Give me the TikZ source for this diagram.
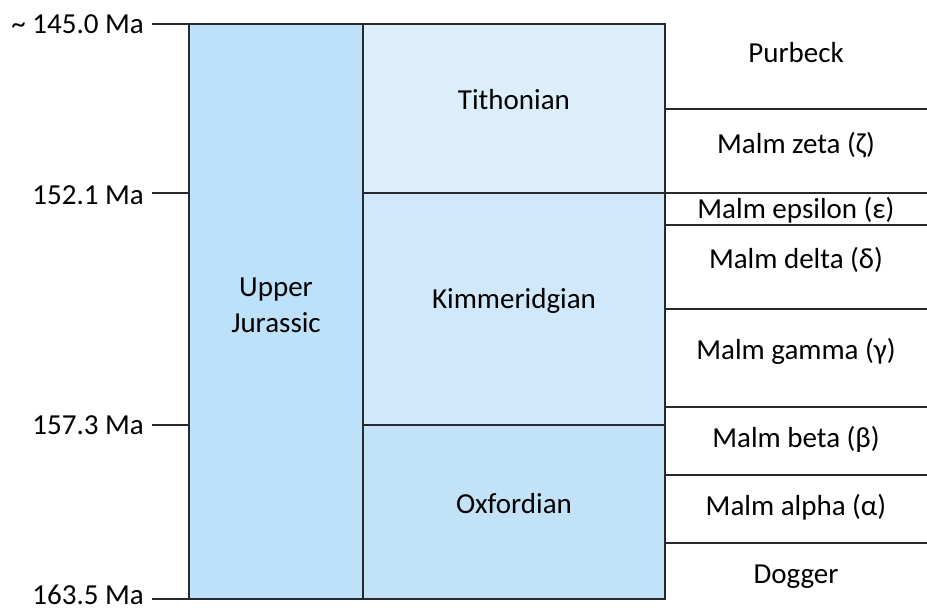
\documentclass[tikz,border=0pt]{standalone}
\usepackage{fontspec}
\setmainfont{Carlito}
\definecolor{linec}{RGB}{38,42,46}
\definecolor{era}{RGB}{189,225,248}
\definecolor{tith}{RGB}{221,238,251}
\definecolor{kimm}{RGB}{208,232,250}
\definecolor{oxf}{RGB}{194,226,248}
\begin{document}
\begin{tikzpicture}[x=1pt,y=-1pt,
  box/.style={draw=linec, line width=1.3pt},
  rule/.style={draw=linec, line width=1.3pt},
  lbl/.style={font=\fontsize{29}{35}\selectfont, anchor=base, inner sep=0pt, text=black},
  agelbl/.style={lbl, anchor=base east}]
\useasboundingbox (0,0) rectangle (927,610);
\fill[white] (0,0) rectangle (927,610);
% boxes
\path[box, fill=era]  (189,24)  rectangle (363,599);
\path[box, fill=tith] (363,24)  rectangle (665,193);
\path[box, fill=kimm] (363,193) rectangle (665,425);
\path[box, fill=oxf]  (363,425) rectangle (665,599);
% right-column divider lines
\foreach \yy in {109,193,225,309,407,475,543}
  \draw[rule] (665,\yy) -- (927,\yy);
% age ticks
\coordinate (a0) at (152,24);  \coordinate (b0) at (189,24);
\coordinate (a1) at (152,193); \coordinate (b1) at (189,193);
\coordinate (a2) at (152,425); \coordinate (b2) at (189,425);
\coordinate (a3) at (152,599); \coordinate (b3) at (189,599);
\draw[rule] (a0) -- (b0);
\draw[rule] (a1) -- (b1);
\draw[rule] (a2) -- (b2);
\draw[rule] (a3) -- (b3);
% age labels
\node[agelbl] (m0) at (144,34)  {\textasciitilde{} 145.0 Ma};
\node[agelbl] (m1) at (144,204) {152.1 Ma};
\node[agelbl] (m2) at (144,434) {157.3 Ma};
\node[agelbl] (m3) at (144,604) {163.5 Ma};
% epoch
\node[lbl] (uj1) at (276,296) {Upper};
\node[lbl] (uj2) at (276,332) {Jurassic};
% stages
\node[lbl] (tith) at (514,110) {Tithonian};
\node[lbl] (kimm) at (514,308) {Kimmeridgian};
\node[lbl] (oxf)  at (514,513) {Oxfordian};
% formations
\node[lbl] (pur) at (796,63)  {Purbeck};
\node[lbl] (zet) at (796,153) {Malm zeta (ζ)};
\node[lbl] (eps) at (796,218) {Malm epsilon (ε)};
\node[lbl] (del) at (796,268) {Malm delta (δ)};
\node[lbl] (gam) at (796,359) {Malm gamma (γ)};
\node[lbl] (bet) at (796,447) {Malm beta (β)};
\node[lbl] (alp) at (796,515) {Malm alpha (α)};
\node[lbl] (dog) at (796,583) {Dogger};
\end{tikzpicture}
\end{document}
